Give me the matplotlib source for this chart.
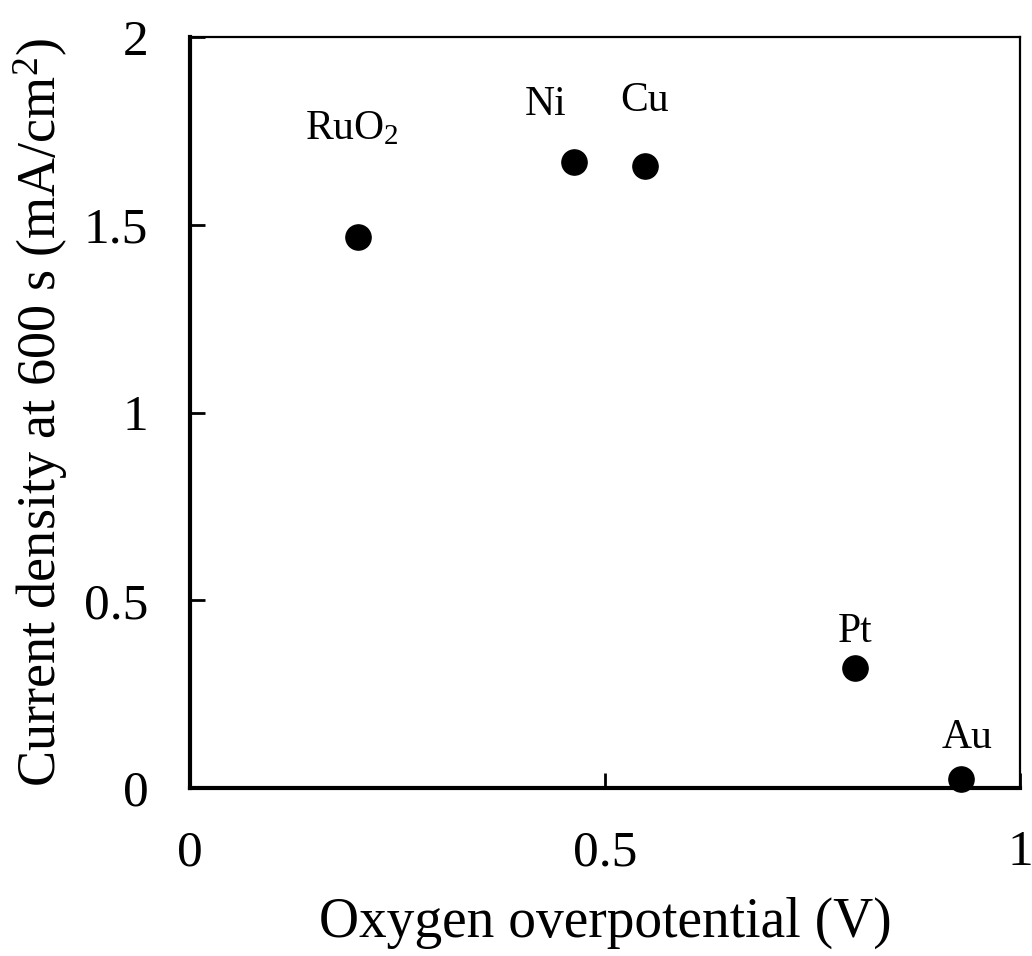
import numpy as np
import matplotlib
matplotlib.use("Agg")
import matplotlib.pyplot as plt

plt.rcParams['font.family'] = ['Liberation Serif', 'DejaVu Serif']
plt.rcParams['mathtext.fontset'] = 'custom'
plt.rcParams['mathtext.rm'] = 'Liberation Serif'
plt.rcParams['mathtext.it'] = 'Liberation Serif:italic'

# data
catalysts = ['RuO$_2$', 'Ni', 'Cu', 'Pt', 'Au']
overpotential = [0.202, 0.463, 0.548, 0.801, 0.929]   # V
current_density = [1.467, 1.667, 1.656, 0.320, 0.024]  # mA/cm2
label_offsets = [(-4, 78), (-21, 41), (0, 47), (0, 26), (4, 30)]  # points

fig = plt.figure(figsize=(10.32, 9.56), dpi=100)
ax = fig.add_axes([0.1841, 0.1757, 0.8043, 0.7856])

ax.scatter(overpotential, current_density, s=330, color='black', zorder=3, clip_on=False)

for name, x, y, off in zip(catalysts, overpotential, current_density, label_offsets):
    ax.annotate(name, (x, y), xytext=off, textcoords='offset points',
                ha='center', va='center', fontsize=30)

ax.set_xlim(0, 1)
ax.set_ylim(0, 2)
ax.set_xticks([0, 0.5, 1])
ax.set_xticklabels(['0', '0.5', '1'])
ax.set_yticks([0, 0.5, 1, 1.5, 2])
ax.set_yticklabels(['0', '0.5', '1', '1.5', '2'])
ax.tick_params(direction='in', length=11, width=2.0, labelsize=37)
ax.tick_params(axis='x', pad=30)
ax.tick_params(axis='y', pad=30)

for side in ['left', 'bottom']:
    ax.spines[side].set_linewidth(3.0)
for side in ['top', 'right']:
    ax.spines[side].set_linewidth(1.6)

ax.set_xlabel('Oxygen overpotential (V)', fontsize=40, labelpad=15)
ax.set_ylabel('Current density at 600 s (mA/cm$^2$)', fontsize=39, labelpad=10)

fig.savefig('out.png', dpi=100)
